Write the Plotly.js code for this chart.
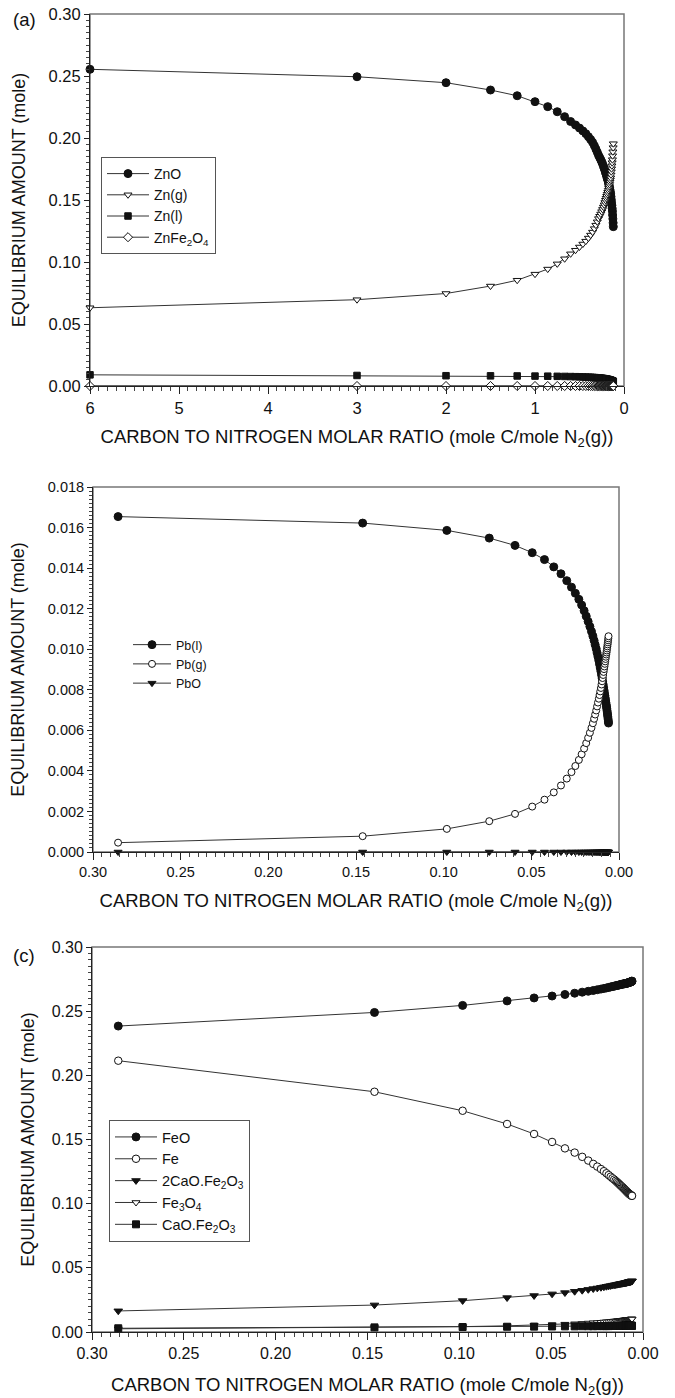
<!DOCTYPE html>
<html>
<head>
<meta charset="utf-8">
<script src="https://cdn.plot.ly/plotly-3.0.1.min.js"></script>
<style>
  html, body { margin: 0; padding: 0; background: #ffffff; }
  #chart { width: 675px; height: 1398px; }
</style>
</head>
<body>
<div id="chart"></div>
<script>
// ---------- Panel (a): Zn species vs C/N2 ratio ----------
var xA = [6, 3, 2, 1.5, 1.2, 1, 0.857, 0.75, 0.667, 0.6, 0.545, 0.5, 0.462, 0.429, 0.4, 0.375, 0.353, 0.333, 0.316, 0.3,
  0.286, 0.273, 0.261, 0.25, 0.24, 0.231, 0.222, 0.214, 0.207, 0.2, 0.194, 0.188, 0.182, 0.176, 0.171, 0.167, 0.162, 0.158, 0.154, 0.15,
  0.146, 0.143, 0.14, 0.136, 0.133, 0.13, 0.128, 0.125, 0.122, 0.12];
var znO = [0.2554, 0.2494, 0.2446, 0.2387, 0.2341, 0.2293, 0.2253, 0.2212, 0.2172, 0.2133, 0.2105, 0.2080, 0.2057, 0.2035, 0.2011, 0.1988, 0.1965, 0.1938, 0.1911, 0.1885,
  0.1860, 0.1842, 0.1825, 0.1807, 0.1790, 0.1772, 0.1755, 0.1737, 0.1720, 0.1705, 0.1690, 0.1675, 0.1660, 0.1645, 0.1630, 0.1615, 0.1600, 0.1583, 0.1567, 0.1550,
  0.1527, 0.1503, 0.1480, 0.1457, 0.1433, 0.1410, 0.1379, 0.1348, 0.1316, 0.1285];
var znG = [0.0631, 0.0696, 0.0746, 0.0806, 0.0853, 0.0902, 0.0943, 0.0985, 0.1026, 0.1066, 0.1095, 0.1121, 0.1145, 0.1168, 0.1193, 0.1217, 0.1241, 0.1269, 0.1297, 0.1324,
  0.1350, 0.1369, 0.1387, 0.1406, 0.1424, 0.1443, 0.1461, 0.1480, 0.1498, 0.1514, 0.1530, 0.1546, 0.1562, 0.1578, 0.1594, 0.1610, 0.1626, 0.1644, 0.1661, 0.1679,
  0.1703, 0.1728, 0.1752, 0.1776, 0.1801, 0.1825, 0.1857, 0.1889, 0.1922, 0.1954];
var znL = [0.0090, 0.0085, 0.0083, 0.0082, 0.0081, 0.0080, 0.0079, 0.0078, 0.0077, 0.0076, 0.0075, 0.0074, 0.0073, 0.0072, 0.0071, 0.0070, 0.0069, 0.0068, 0.0067, 0.0066,
  0.0065, 0.0064, 0.0063, 0.0062, 0.0061, 0.0060, 0.0059, 0.0058, 0.0057, 0.0056, 0.0055, 0.0054, 0.0053, 0.0052, 0.0051, 0.0050, 0.0049, 0.0048, 0.0047, 0.0046,
  0.0045, 0.0044, 0.0043, 0.0042, 0.0041, 0.0040, 0.0039, 0.0038, 0.0037, 0.0036];
var znFe2O4 = [0, 0, 0, 0, 0, 0, 0, 0, 0, 0, 0, 0, 0, 0, 0, 0, 0, 0, 0, 0,
  0, 0, 0, 0, 0, 0, 0, 0, 0, 0, 0, 0, 0, 0, 0, 0, 0, 0, 0, 0,
  0, 0, 0, 0, 0, 0, 0, 0, 0, 0];

// ---------- Panel (b): Pb species ----------
var xB = [0.2857, 0.1462, 0.0982, 0.0740, 0.0593, 0.0495, 0.0425, 0.0372, 0.0331, 0.0298, 0.0271, 0.0249, 0.0229, 0.0213, 0.0199, 0.0187, 0.0176, 0.0166, 0.0157, 0.0149,
  0.0142, 0.0136, 0.0130, 0.0125, 0.0120, 0.0115, 0.0111, 0.0107, 0.0103, 0.00996, 0.00964, 0.00934, 0.00906, 0.00879, 0.00854, 0.00831, 0.00808, 0.00787, 0.00767, 0.00748,
  0.00729, 0.00712, 0.00696, 0.00680, 0.00665, 0.00650, 0.00636, 0.00623, 0.00610, 0.00598];
var pbL = [0.01654, 0.01622, 0.01586, 0.01548, 0.01512, 0.01476, 0.01442, 0.01406, 0.01372, 0.01338, 0.01306, 0.01276, 0.01246, 0.01218, 0.01190, 0.01163, 0.01137, 0.01112, 0.01088, 0.01065,
  0.01043, 0.01022, 0.01002, 0.00982, 0.00963, 0.00944, 0.00926, 0.00908, 0.00891, 0.00874, 0.00858, 0.00842, 0.00827, 0.00812, 0.00798, 0.00785, 0.00772, 0.00760, 0.00748, 0.00737,
  0.00726, 0.00716, 0.00706, 0.00696, 0.00686, 0.00676, 0.00666, 0.00656, 0.00646, 0.00636];
var pbG = [0.00046, 0.00078, 0.00114, 0.00152, 0.00188, 0.00224, 0.00258, 0.00294, 0.00328, 0.00362, 0.00394, 0.00424, 0.00454, 0.00482, 0.00510, 0.00537, 0.00563, 0.00588, 0.00612, 0.00635,
  0.00657, 0.00678, 0.00698, 0.00718, 0.00737, 0.00756, 0.00774, 0.00792, 0.00809, 0.00826, 0.00842, 0.00858, 0.00873, 0.00888, 0.00902, 0.00915, 0.00928, 0.00940, 0.00952, 0.00963,
  0.00974, 0.00984, 0.00994, 0.01004, 0.01014, 0.01024, 0.01034, 0.01044, 0.01054, 0.01064];
var pbO = [0, 0, 0, 0, 0, 0, 0, 0, 0, 0, 0, 0, 0, 0, 0, 0, 0, 0, 0, 0,
  0, 0, 0, 0, 0, 0, 0, 0, 0, 0, 0, 0, 0, 0, 0, 0, 0, 0, 0, 0,
  0, 0, 0, 0, 0, 0, 0, 0, 0, 0];

// ---------- Panel (c): Fe species ----------
var xC = [0.2857, 0.1462, 0.0982, 0.0740, 0.0593, 0.0495, 0.0425, 0.0372, 0.0331, 0.0298, 0.0271, 0.0249, 0.0229, 0.0213, 0.0199, 0.0187, 0.0176, 0.0166, 0.0157, 0.0149,
  0.0142, 0.0136, 0.0130, 0.0125, 0.0120, 0.0115, 0.0111, 0.0107, 0.0103, 0.00996, 0.00964, 0.00934, 0.00906, 0.00879, 0.00854, 0.00831, 0.00808, 0.00787, 0.00767, 0.00748,
  0.00729, 0.00712, 0.00696, 0.00680, 0.00665, 0.00650, 0.00636, 0.00623, 0.00610, 0.00598];
var feO = [0.2384, 0.2490, 0.2545, 0.2580, 0.2603, 0.2618, 0.2630, 0.2640, 0.2648, 0.2655, 0.2661, 0.2667, 0.2672, 0.2677, 0.2681, 0.2685, 0.2689, 0.2692, 0.2695, 0.2698,
  0.2700, 0.2702, 0.2704, 0.2706, 0.2708, 0.2710, 0.2711, 0.2712, 0.2713, 0.2714, 0.2715, 0.2716, 0.2717, 0.2718, 0.2719, 0.2720, 0.2721, 0.2722, 0.2723, 0.2724,
  0.2725, 0.2726, 0.2727, 0.2728, 0.2729, 0.2730, 0.2731, 0.2732, 0.2733, 0.2734];
var fe = [0.2114, 0.1872, 0.1724, 0.1621, 0.1543, 0.1481, 0.1431, 0.1398, 0.1365, 0.1336, 0.1310, 0.1289, 0.1270, 0.1253, 0.1237, 0.1223, 0.1210, 0.1198, 0.1188, 0.1178,
  0.1169, 0.1161, 0.1153, 0.1146, 0.1139, 0.1133, 0.1127, 0.1121, 0.1116, 0.1111, 0.1106, 0.1102, 0.1098, 0.1094, 0.1090, 0.1087, 0.1084, 0.1081, 0.1078, 0.1076,
  0.1074, 0.1072, 0.1070, 0.1068, 0.1066, 0.1065, 0.1064, 0.1063, 0.1062, 0.1061];
var ca2Fe2O5 = [0.0164, 0.0210, 0.0244, 0.0267, 0.0283, 0.0296, 0.0306, 0.0316, 0.0324, 0.0331, 0.0337, 0.0342, 0.0347, 0.0351, 0.0355, 0.0358, 0.0361, 0.0364, 0.0366, 0.0368,
  0.0370, 0.0372, 0.0374, 0.0375, 0.0377, 0.0378, 0.0379, 0.0380, 0.0381, 0.0382, 0.0383, 0.0384, 0.0385, 0.0386, 0.0387, 0.0388, 0.0389, 0.0390, 0.0390, 0.0391,
  0.0392, 0.0392, 0.0393, 0.0394, 0.0394, 0.0395, 0.0395, 0.0396, 0.0396, 0.0397];
var fe3O4 = [0.0025, 0.0035, 0.0042, 0.0048, 0.0053, 0.0057, 0.0061, 0.0064, 0.0067, 0.0070, 0.0072, 0.0074, 0.0076, 0.0078, 0.0080, 0.0081, 0.0083, 0.0084, 0.0085, 0.0086,
  0.0087, 0.0088, 0.0089, 0.0090, 0.0091, 0.0091, 0.0092, 0.0093, 0.0093, 0.0094, 0.0094, 0.0095, 0.0095, 0.0096, 0.0096, 0.0097, 0.0097, 0.0097, 0.0098, 0.0098,
  0.0098, 0.0099, 0.0099, 0.0099, 0.0100, 0.0100, 0.0100, 0.0101, 0.0101, 0.0101];
var caFe2O4 = [0.0029, 0.0036, 0.0039, 0.0041, 0.0042, 0.0043, 0.0044, 0.0044, 0.0045, 0.0045, 0.0045, 0.0046, 0.0046, 0.0046, 0.0046, 0.0046, 0.0047, 0.0047, 0.0047, 0.0047,
  0.0047, 0.0047, 0.0047, 0.0047, 0.0047, 0.0047, 0.0047, 0.0048, 0.0048, 0.0048, 0.0048, 0.0048, 0.0048, 0.0048, 0.0048, 0.0048, 0.0048, 0.0048, 0.0048, 0.0048,
  0.0048, 0.0048, 0.0048, 0.0048, 0.0048, 0.0048, 0.0048, 0.0048, 0.0048, 0.0048];

// ---------- labels ----------
var namesA = ['ZnO', 'Zn(g)', 'Zn(l)', 'ZnFe<sub>2</sub>O<sub>4</sub>'];
var namesB = ['Pb(l)', 'Pb(g)', 'PbO'];
var namesC = ['FeO', 'Fe', '2CaO.Fe<sub>2</sub>O<sub>3</sub>', 'Fe<sub>3</sub>O<sub>4</sub>', 'CaO.Fe<sub>2</sub>O<sub>3</sub>'];
var xTitle = 'CARBON TO NITROGEN MOLAR RATIO (mole C/mole N<sub>2</sub>(g))';
var yTitle = 'EQUILIBRIUM AMOUNT (mole)';

var FONT = '"Liberation Sans", Arial, Helvetica, sans-serif';
var INK = '#111111';
var LINE = '#333333';

function tr(x, y, name, sym, size, filled, xa, ya, leg) {
  return {
    x: x, y: y, name: name, type: 'scatter', mode: 'lines+markers',
    xaxis: xa, yaxis: ya, legend: leg, cliponaxis: false,
    line: { color: LINE, width: 1 },
    marker: { symbol: sym, size: size, color: filled ? INK : '#ffffff', line: { color: INK, width: 1 } }
  };
}

var data = [
  tr(xA, znO, namesA[0], 'circle', 8, true, 'x', 'y', 'legend'),
  tr(xA, znG, namesA[1], 'triangle-down', 7, false, 'x', 'y', 'legend'),
  tr(xA, znL, namesA[2], 'square', 6.5, true, 'x', 'y', 'legend'),
  tr(xA, znFe2O4, namesA[3], 'diamond', 7, false, 'x', 'y', 'legend'),

  tr(xB, pbL, namesB[0], 'circle', 8, true, 'x2', 'y2', 'legend2'),
  tr(xB, pbG, namesB[1], 'circle', 7, false, 'x2', 'y2', 'legend2'),
  tr(xB, pbO, namesB[2], 'triangle-down', 7, true, 'x2', 'y2', 'legend2'),

  tr(xC, feO, namesC[0], 'circle', 8, true, 'x3', 'y3', 'legend3'),
  tr(xC, fe, namesC[1], 'circle', 7.5, false, 'x3', 'y3', 'legend3'),
  tr(xC, ca2Fe2O5, namesC[2], 'triangle-down', 7.5, true, 'x3', 'y3', 'legend3'),
  tr(xC, fe3O4, namesC[3], 'triangle-down', 7, false, 'x3', 'y3', 'legend3'),
  tr(xC, caFe2O4, namesC[4], 'square', 7, true, 'x3', 'y3', 'legend3')
];

var W = 675, H = 1398;
function px(v) { return v / W; }
function py(v) { return 1 - v / H; }

function xax(domain, range, dtick, minor, fmt, tickSize, standoff, anchor) {
  return {
    domain: domain, range: range, anchor: anchor, autorange: false,
    showline: true, linecolor: '#222', linewidth: 1, mirror: false,
    showgrid: false, zeroline: false,
    ticks: 'outside', ticklen: 7, tickwidth: 1, tickcolor: '#222',
    dtick: dtick, tick0: 0, tickformat: fmt,
    minor: { dtick: minor, tick0: 0, ticks: 'outside', ticklen: 3.5, tickwidth: 1, tickcolor: '#444', showgrid: false },
    tickfont: { family: FONT, size: tickSize, color: INK },
    title: { text: xTitle, font: { family: FONT, size: 18.5, color: INK }, standoff: standoff }
  };
}
function yax(domain, range, dtick, minor, fmt, tickSize, standoff, anchor) {
  return {
    domain: domain, range: range, anchor: anchor, autorange: false,
    showline: true, linecolor: '#222', linewidth: 1, mirror: false,
    showgrid: false, zeroline: false,
    ticks: 'outside', ticklen: 5, tickwidth: 1, tickcolor: '#222',
    dtick: dtick, tick0: 0, tickformat: fmt,
    minor: { dtick: minor, tick0: 0, ticks: 'outside', ticklen: 3, tickwidth: 1, tickcolor: '#444', showgrid: false },
    tickfont: { family: FONT, size: tickSize, color: INK },
    title: { text: yTitle, font: { family: FONT, size: 18, color: INK }, standoff: standoff }
  };
}

function box(xr, yr) {
  return { type: 'rect', xref: xr + ' domain', yref: yr + ' domain', x0: 0, x1: 1, y0: 0, y1: 1,
    line: { color: '#777777', width: 1.5 }, fillcolor: 'rgba(0,0,0,0)', layer: 'below' };
}

var layout = {
  width: W, height: H,
  margin: { l: 0, r: 0, t: 0, b: 0 },
  paper_bgcolor: '#ffffff', plot_bgcolor: '#ffffff',
  font: { family: FONT, color: INK },
  showlegend: true,
  xaxis: xax([px(90), px(624)], [6, 0], 1, 0.1, 'd', 16.5, 14, 'y'),
  yaxis: yax([py(386), py(14)], [0, 0.30], 0.05, 0.005, '.2f', 16.5, 18, 'x'),
  xaxis2: xax([px(93), px(619)], [0.30, 0], 0.05, 0.005, '.2f', 14.5, 14, 'y2'),
  yaxis2: yax([py(852), py(487)], [0, 0.018], 0.002, 0.0002, '.3f', 14.5, 18, 'x2'),
  xaxis3: xax([px(92), px(643)], [0.30, 0], 0.05, 0.005, '.2f', 16, 16, 'y3'),
  yaxis3: yax([py(1332), py(947)], [0, 0.30], 0.05, 0.005, '.2f', 16, 12, 'x3'),
  legend: {
    x: px(101), y: py(157), xanchor: 'left', yanchor: 'top',
    bgcolor: '#ffffff', bordercolor: '#555', borderwidth: 1,
    itemwidth: 42, entrywidth: 112,
    font: { family: FONT, size: 14, color: INK }, traceorder: 'normal', tracegroupgap: 0
  },
  legend2: {
    x: px(128), y: py(630), xanchor: 'left', yanchor: 'top',
    bgcolor: 'rgba(0,0,0,0)', borderwidth: 0, itemwidth: 38,
    font: { family: FONT, size: 12.5, color: INK }, traceorder: 'normal', tracegroupgap: 0
  },
  legend3: {
    x: px(109), y: py(1120), xanchor: 'left', yanchor: 'top',
    bgcolor: '#ffffff', bordercolor: '#555', borderwidth: 1,
    itemwidth: 42, entrywidth: 150,
    font: { family: FONT, size: 14.5, color: INK }, traceorder: 'normal', tracegroupgap: 0
  },
  shapes: [box('x', 'y'), box('x2', 'y2'), box('x3', 'y3')],
  annotations: [
    { text: '(a)', xref: 'paper', yref: 'paper', x: px(24), y: py(20), xanchor: 'center', yanchor: 'middle', showarrow: false,
      font: { family: FONT, size: 18.5, color: INK } },
    { text: '(c)', xref: 'paper', yref: 'paper', x: px(24), y: py(955), xanchor: 'center', yanchor: 'middle', showarrow: false,
      font: { family: FONT, size: 18.5, color: INK } }
  ]
};

Plotly.newPlot('chart', data, layout, { staticPlot: true, displayModeBar: false });
</script>
</body>
</html>
